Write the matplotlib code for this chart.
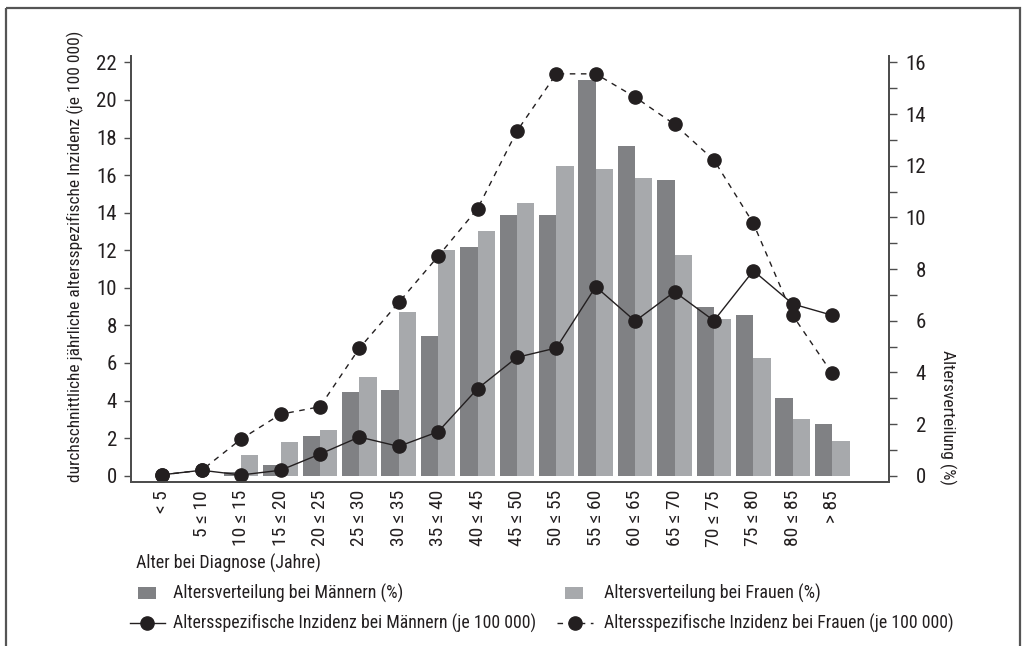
import matplotlib
matplotlib.use("Agg")
import matplotlib.pyplot as plt
from matplotlib.lines import Line2D
from matplotlib.patches import Rectangle
import numpy as np

# --- fonts: condensed sans, DejaVu as fallback for missing glyphs ---
plt.rcParams["font.family"] = ["Roboto Condensed", "Archivo Narrow",
                               "PT Sans Narrow", "DejaVu Sans"]

# --- data ---
age_groups = ["< 5", "5 ≤ 10", "10 ≤ 15", "15 ≤ 20", "20 ≤ 25", "25 ≤ 30",
              "30 ≤ 35", "35 ≤ 40", "40 ≤ 45", "45 ≤ 50", "50 ≤ 55", "55 ≤ 60",
              "60 ≤ 65", "65 ≤ 70", "70 ≤ 75", "75 ≤ 80", "80 ≤ 85", "> 85"]

# age distribution (%), right axis
dist_men = [0.0, 0.0, 0.14, 0.42, 1.52, 3.23, 3.31, 5.39, 8.84, 10.09,
            10.09, 15.33, 12.76, 11.46, 6.54, 6.24, 3.01, 2.0]
dist_women = [0.0, 0.0, 0.8, 1.29, 1.76, 3.84, 6.33, 8.75, 9.49, 10.56,
              11.98, 11.87, 11.52, 8.56, 6.08, 4.57, 2.18, 1.34]

# age-specific incidence per 100 000, left axis
inc_men = [0.05, 0.29, 0.04, 0.29, 1.15, 2.06, 1.56, 2.34, 4.63, 6.30,
           6.80, 10.06, 8.23, 9.79, 8.25, 10.91, 9.14, 8.54]
inc_women = [0.05, 0.29, 1.95, 3.27, 3.67, 6.78, 9.22, 11.68, 14.21, 18.34,
             21.39, 21.39, 20.15, 18.70, 16.80, 13.43, 8.53, 5.45]

DARK = "#808184"
LIGHT = "#a7a9ac"
INK = "#231f20"
SPINE = "#4d4d4d"

W, H = 1027, 646
fig = plt.figure(figsize=(W / 100, H / 100), dpi=100)

# bars live on the base axes (scale on the right), lines on a twin (scale on the left)
ax = fig.add_axes([131 / W, 1 - 481.7 / H, (889.3 - 131) / W, (481.7 - 56) / H])
ax2 = ax.twinx()

x = np.arange(len(age_groups))
bw = 0.44
ax.bar(x - bw / 2, dist_men, width=bw, color=DARK, linewidth=0, zorder=2)
ax.bar(x + bw / 2, dist_women, width=bw, color=LIGHT, linewidth=0, zorder=2)

ax2.plot(x, inc_women, color=INK, linestyle=(0, (4, 4)), linewidth=1.0,
         marker="o", markersize=9.5, markerfacecolor=INK, markeredgecolor=INK)
ax2.plot(x, inc_men, color=INK, linestyle="-", linewidth=1.0,
         marker="o", markersize=9.5, markerfacecolor=INK, markeredgecolor=INK)

ax.set_xlim(-0.794, 18.45)
ax.set_ylim(-0.232, 16.25)
ax2.set_ylim(-0.319, 22.34)

# right axis (%): major every 2, minor every 1
ax.yaxis.tick_right()
ax.set_yticks(np.arange(0, 17, 2))
ax.set_yticks(np.arange(1, 16, 2), minor=True)
ax.tick_params(axis="y", which="both", direction="out", length=5.5, width=1,
               color=SPINE, labelsize=15, labelcolor=INK, pad=21)
for lab in ax.get_yticklabels():
    lab.set_horizontalalignment("right")

# left axis (incidence)
ax2.yaxis.tick_left()
ax2.set_yticks(np.arange(0, 23, 2))
ax2.tick_params(axis="y", direction="out", length=5, width=1, color=SPINE,
                labelsize=15, labelcolor=INK, pad=5)

ax.set_xticks(x)
ax.set_xticklabels(age_groups, rotation=90, fontsize=14, color=INK)
ax.tick_params(axis="x", length=0, pad=6)

for a in (ax, ax2):
    a.spines["top"].set_visible(False)
    for s in ("left", "right", "bottom"):
        a.spines[s].set_color(SPINE)
        a.spines[s].set_linewidth(1.3)

# overlay in pixel units for titles, legend and frame
ov = fig.add_axes([0, 0, 1, 1], zorder=-1)
ov.set_xlim(0, W)
ov.set_ylim(H, 0)
ov.axis("off")

ov.add_patch(Rectangle((6, 8), 1014, 700, fill=False, edgecolor="#555555",
                       linewidth=1.6))

ov.text(75, 256, "durchschnittliche jährliche altersspezifische Inzidenz (je 100 000)",
        rotation=90, ha="center", va="center", fontsize=12.5, color=INK)
ov.text(948, 417, "Altersverteilung (%)", rotation=-90, ha="center",
        va="center", fontsize=12.5, color=INK)
ov.text(136, 563, "Alter bei Diagnose (Jahre)", ha="left", va="center",
        fontsize=13, color=INK)

# legend, two columns
ov.add_patch(Rectangle((138, 587), 18, 12, color=DARK, linewidth=0))
ov.text(173, 593, "Altersverteilung bei Männern (%)", ha="left", va="center",
        fontsize=13, color=INK)
ov.add_patch(Rectangle((565, 587), 18, 12, color=LIGHT, linewidth=0))
ov.text(604, 593, "Altersverteilung bei Frauen (%)", ha="left", va="center",
        fontsize=13, color=INK)

ov.add_line(Line2D([130, 165], [623, 623], color=INK, linewidth=1.0))
ov.add_line(Line2D([147], [623], marker="o", markersize=9.5, color=INK))
ov.text(173, 623, "Altersspezifische Inzidenz bei Männern (je 100 000)",
        ha="left", va="center", fontsize=12.8, color=INK)
ov.add_line(Line2D([557, 593], [623, 623], color=INK, linewidth=1.0,
                   linestyle=(0, (4, 4))))
ov.add_line(Line2D([575], [623], marker="o", markersize=9.5, color=INK))
ov.text(604, 623, "Altersspezifische Inzidenz bei Frauen (je 100 000)",
        ha="left", va="center", fontsize=12.8, color=INK)

fig.savefig("out.png", dpi=100)
